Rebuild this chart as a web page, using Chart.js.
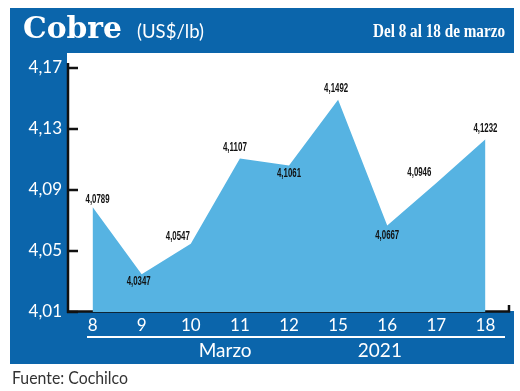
<!DOCTYPE html>
<html>
<head>
<meta charset="utf-8">
<script src="https://cdn.jsdelivr.net/npm/chart.js@4.4.1/dist/chart.umd.min.js"></script>
<style>
  html, body { margin: 0; padding: 0; background: #fff; }
  #wrap { width: 520px; height: 391px; position: relative; }
</style>
</head>
<body>
<div id="wrap"><canvas id="myChart" width="520" height="391"></canvas></div>
<script>
// data
const days = ['8', '9', '10', '11', '12', '15', '16', '17', '18'];
const copper = [4.0789, 4.0347, 4.0547, 4.1107, 4.1061, 4.1492, 4.0667, 4.0946, 4.1232];
const yTicks = [4.01, 4.05, 4.09, 4.13, 4.17];
const groupLabels = ['Marzo', '2021'];
const groupAt = [2.7, 5.85];   // category index where each group label sits

const BLUE = '#0b65ab';
const FILL = '#56b3e2';

// where each value label sits relative to its point (px)
const labelShift = [[5, -7], [-3, 7], [-13, -7], [-5, -11], [0, 8], [-2, -11], [0, 10], [-17, -10], [0, -11]];

function fmt(v, d) { return v.toFixed(d).replace('.', ','); }

// draw text stretched/squeezed to a given width
function fitText(ctx, txt, x, y, w, align) {
  let m = ctx.measureText(txt).width;
  let s = w / m;
  ctx.save();
  ctx.textAlign = 'left';
  let left = x;
  if (align == 'center') left = x - w / 2;
  if (align == 'right') left = x - w;
  ctx.translate(left, y);
  ctx.scale(s, 1);
  ctx.fillText(txt, 0, 0);
  ctx.restore();
}

const frame = {
  id: 'frame',
  beforeDraw(chart) {
    const ctx = chart.ctx;
    ctx.save();
    ctx.fillStyle = '#fff';
    ctx.fillRect(0, 0, 520, 391);
    ctx.fillStyle = BLUE;
    ctx.fillRect(10, 8, 504, 356);
    ctx.fillStyle = '#fff';
    ctx.fillRect(67, 53, 453, 258);

    ctx.textBaseline = 'alphabetic';
    ctx.fillStyle = '#fff';
    ctx.font = 'bold 30px "DejaVu Serif"';
    fitText(ctx, 'Cobre', 23, 38, 99, 'left');
    ctx.font = '19px Lato';
    fitText(ctx, '(US$/lb)', 137, 38, 67, 'left');
    ctx.font = 'bold 18px "Liberation Serif"';
    fitText(ctx, 'Del 8 al 18 de marzo', 505, 37, 132, 'right');

    ctx.fillStyle = '#333';
    ctx.font = '17px Lato';
    fitText(ctx, 'Fuente: Cochilco', 12, 384, 116, 'left');
    ctx.restore();
  },
  beforeDatasetsDraw(chart) {
    const ctx = chart.ctx;
    const a = chart.chartArea;
    const y = chart.scales.y;
    ctx.save();
    ctx.strokeStyle = '#111';
    ctx.lineWidth = 2.5;
    ctx.beginPath();
    ctx.moveTo(68, 63);
    ctx.lineTo(68, y.getPixelForValue(yTicks[0]) + 1);
    ctx.moveTo(68, a.bottom - 0.5);
    ctx.lineTo(509, a.bottom - 0.5);
    ctx.lineTo(509, a.bottom - 7);
    ctx.stroke();
    ctx.restore();
  },
  afterDatasetsDraw(chart) {
    const ctx = chart.ctx;
    const x = chart.scales.x;
    const y = chart.scales.y;
    ctx.save();
    // inward y ticks
    ctx.strokeStyle = '#111';
    ctx.lineWidth = 2.5;
    ctx.beginPath();
    yTicks.forEach(function (t) {
      let py = Math.round(y.getPixelForValue(t));
      ctx.moveTo(67, py);
      ctx.lineTo(78, py);
    });
    ctx.stroke();

    // value labels
    ctx.fillStyle = '#111';
    ctx.font = 'bold 12px "Liberation Sans"';
    ctx.textBaseline = 'middle';
    copper.forEach(function (v, i) {
      let px = x.getPixelForValue(i) + labelShift[i][0];
      let py = y.getPixelForValue(v) + labelShift[i][1];
      fitText(ctx, fmt(v, 4), px, py, 24, 'center');
    });

    // group line and labels under the axis
    ctx.strokeStyle = '#fff';
    ctx.lineWidth = 2;
    ctx.beginPath();
    ctx.moveTo(87, 337);
    ctx.lineTo(505, 337);
    ctx.stroke();
    ctx.fillStyle = '#fff';
    ctx.font = '19px Lato';
    ctx.textAlign = 'center';
    ctx.textBaseline = 'middle';
    groupLabels.forEach(function (g, i) {
      ctx.fillText(g, x.getPixelForValue(groupAt[i]), 351);
    });
    ctx.restore();
  }
};

const data = {
  labels: days,
  datasets: [{
    label: 'Cobre',
    data: copper,
    fill: 'start',
    backgroundColor: FILL,
    borderColor: FILL,
    borderWidth: 0,
    pointRadius: 0,
    tension: 0
  }]
};

const config = {
  type: 'line',
  data: data,
  plugins: [frame],
  options: {
    responsive: false,
    animation: false,
    layout: { padding: { left: 0, right: 10, top: 68, bottom: 0 } },
    plugins: {
      legend: { display: false },
      tooltip: { enabled: false }
    },
    scales: {
      x: {
        offset: true,
        grid: { display: false, drawTicks: false },
        border: { display: false },
        ticks: { color: '#fff', font: { family: 'Lato', size: 17 }, padding: 3, maxRotation: 0, autoSkip: false },
        afterFit(s) { s.height = 391 - 312; }
      },
      y: {
        min: 4.01,
        max: 4.17,
        grid: { display: false, drawTicks: false },
        border: { display: false },
        afterBuildTicks(s) { s.ticks = yTicks.map(function (v) { return { value: v }; }); },
        ticks: {
          color: '#fff',
          font: { family: 'Lato', size: 17 },
          padding: 6,
          callback: function (v) { return fmt(v, 2); }
        },
        afterFit(s) { s.width = 68; }
      }
    }
  }
};

const myChart = new Chart(document.getElementById('myChart'), config);
</script>
</body>
</html>
